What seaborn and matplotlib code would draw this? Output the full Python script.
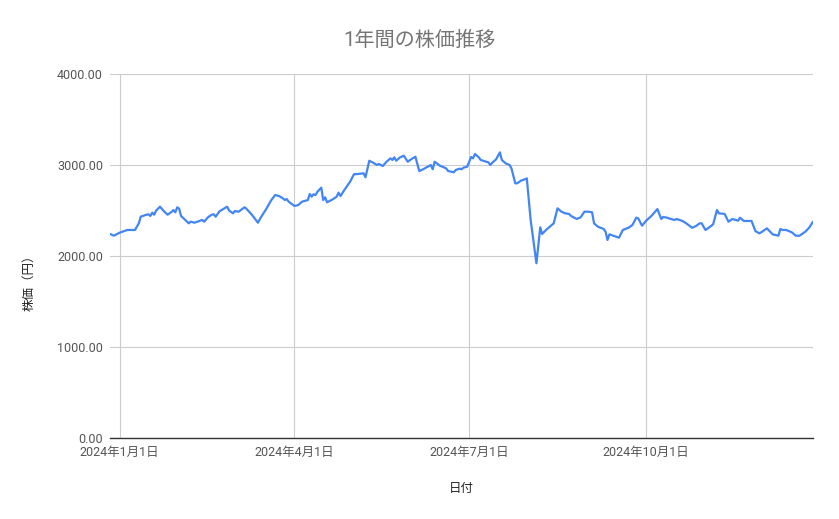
import pandas as pd
import matplotlib.pyplot as plt
import matplotlib.dates as mdates
from matplotlib.ticker import FuncFormatter, MultipleLocator
import seaborn as sns

sns.set_theme(style="white")
plt.rcParams['font.family'] = ['Roboto', 'Noto Sans CJK JP', 'DejaVu Sans']

# days counted from 2024-01-01, and the closing price
days = [-5, -3, 0, 4, 8, 10, 11, 14, 15, 16, 17, 18, 19, 21, 23, 25, 27, 28, 29, 30,
        31, 32, 36, 37, 39, 43, 44, 46, 48, 49, 50, 52, 56, 57, 59, 60, 62, 65, 66, 69,
        72, 74, 76, 79, 81, 83, 85, 86, 87, 88, 91, 93, 95, 98, 99, 100, 101, 102, 103, 105,
        106, 107, 108, 111, 113, 114, 115, 117, 120, 122, 124, 127, 128, 130, 132, 134, 135, 137, 139, 141,
        142, 143, 144, 146, 148, 150, 152, 154, 156, 158, 161, 162, 163, 164, 167, 168, 170, 171, 174, 175,
        177, 178, 179, 181, 183, 184, 185, 187, 188, 191, 192, 193, 194, 196, 198, 199, 201, 203, 204, 206,
        207, 209, 211, 212, 214, 217, 219, 220, 222, 226, 228, 230, 232, 234, 235, 238, 240, 242, 244, 246,
        247, 249, 252, 253, 254, 255, 257, 260, 262, 265, 267, 269, 270, 272, 274, 277, 280, 282, 283, 285,
        287, 289, 290, 293, 295, 298, 300, 302, 303, 305, 307, 309, 311, 312, 315, 317, 319, 322, 323, 325,
        329, 331, 333, 334, 337, 340, 343, 344, 345, 347, 350, 352, 354, 357, 359, 361]
prices = [2242, 2223, 2256, 2286, 2286, 2359, 2432, 2454, 2458, 2440, 2476, 2454, 2498, 2542, 2494, 2454, 2484, 2505, 2480, 2535,
          2520, 2440, 2359, 2377, 2366, 2396, 2377, 2425, 2454, 2458, 2432, 2491, 2542, 2500, 2469, 2494, 2487, 2535, 2520, 2450,
          2366, 2440, 2505, 2615, 2670, 2659, 2634, 2615, 2626, 2597, 2550, 2560, 2597, 2615, 2681, 2652, 2678, 2670, 2706, 2751,
          2615, 2645, 2590, 2623, 2652, 2696, 2659, 2725, 2817, 2898, 2901, 2909, 2865, 3047, 3025, 3000, 3011, 2989, 3036, 3073,
          3055, 3084, 3047, 3084, 3102, 3036, 3066, 3091, 2934, 2953, 2989, 3000, 2953, 3036, 2989, 2982, 2963, 2934, 2920, 2945,
          2960, 2953, 2970, 2982, 3088, 3073, 3121, 3084, 3055, 3036, 3029, 3000, 3025, 3062, 3139, 3055, 3018, 3000, 2963, 2799,
          2799, 2828, 2843, 2853, 2396, 1920, 2315, 2242, 2286, 2359, 2524, 2487, 2469, 2462, 2440, 2407, 2425, 2487, 2487, 2480,
          2359, 2322, 2297, 2267, 2176, 2238, 2223, 2201, 2286, 2311, 2341, 2421, 2414, 2333, 2385, 2443, 2516, 2407, 2429, 2421,
          2407, 2396, 2407, 2385, 2359, 2311, 2328, 2359, 2359, 2286, 2315, 2348, 2505, 2469, 2462, 2377, 2407, 2388, 2421, 2385,
          2385, 2275, 2249, 2260, 2304, 2238, 2223, 2297, 2286, 2286, 2260, 2223, 2223, 2267, 2311, 2377]

dates = pd.Timestamp("2024-01-01") + pd.to_timedelta(days, unit="D")
df = pd.DataFrame({"date": dates, "price": prices})
tick_dates = pd.to_datetime(["2024-01-01", "2024-04-01", "2024-07-01", "2024-10-01"])

fig = plt.figure(figsize=(8.39, 5.19), dpi=100)
ax = fig.add_axes([110 / 839, 81 / 519, 703 / 839, 364 / 519])

sns.lineplot(data=df, x="date", y="price", ax=ax, color="#4285f4", linewidth=1.6)

ax.set_xlim(df["date"].iloc[0], df["date"].iloc[-1])
ax.set_ylim(0, 4000)
ax.yaxis.set_major_locator(MultipleLocator(1000))
ax.yaxis.set_major_formatter(FuncFormatter(lambda v, p: f"{v:.2f}"))
ax.set_xticks(tick_dates)
ax.xaxis.set_major_formatter(FuncFormatter(
    lambda v, p: "{0}年{1}月{2}日".format(*[int(s) for s in mdates.num2date(v).strftime("%Y %m %d").split()])))

ax.grid(True, color="#cccccc", linewidth=0.8)
ax.set_axisbelow(True)
for side in ["top", "right", "left"]:
    ax.spines[side].set_visible(False)
ax.spines["bottom"].set_color("#333333")
ax.spines["bottom"].set_linewidth(1.0)
ax.tick_params(axis="both", length=0, labelsize=9, labelcolor="#555555")
ax.tick_params(axis="x", pad=6)
ax.tick_params(axis="y", pad=5)

ax.set_xlabel("日付", fontsize=9, color="#222222", labelpad=16)
ax.set_ylabel("株価（円）", fontsize=9, color="#222222")
ax.yaxis.set_label_coords(-75 / 703, (438 - 280) / 364)

fig.suptitle("1年間の株価推移", x=0.5, y=1 - 40 / 519, va="center", fontsize=14.5, color="#757575")

fig.savefig("out.png", dpi=100)
